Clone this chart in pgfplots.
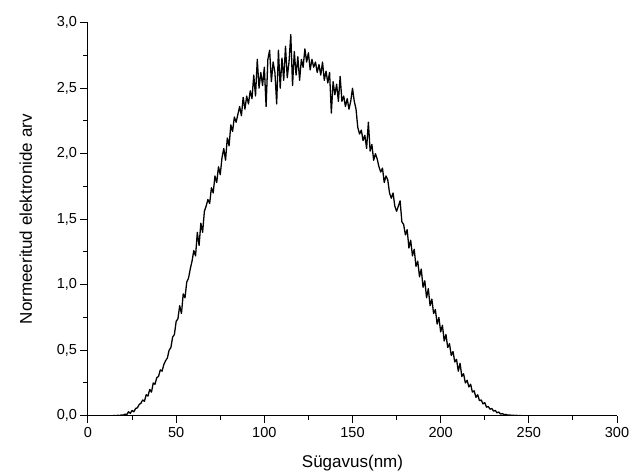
\documentclass[border=0pt]{standalone}
\usepackage{pgfplots}
\pgfplotsset{compat=1.18}
\usepackage{pgfplotstable}
\usepackage{fontspec}
\setmainfont{Liberation Sans}
\pgfplotstableread{
x y
14 0
15 0.002
16 0
17 0.003
18 0.001
19 0.006
20 0.004
21 0.012
22 0.008
23 0.03
24 0.018
25 0.04
26 0.03
27 0.055
28 0.06
29 0.085
30 0.095
31 0.12
32 0.11
33 0.16
34 0.15
35 0.2
36 0.18
37 0.25
38 0.24
39 0.29
40 0.3
41 0.35
42 0.34
43 0.39
44 0.42
45 0.44
46 0.5
47 0.52
48 0.6
49 0.62
50 0.72
51 0.74
52 0.84
53 0.78
54 0.93
55 0.9
56 1.02
57 1.05
58 1.12
59 1.18
60 1.26
61 1.22
62 1.40
63 1.30
64 1.47
65 1.40
66 1.56
67 1.6
68 1.65
69 1.62
70 1.74
71 1.7
72 1.83
73 1.78
74 1.9
75 1.84
76 1.97
77 2.04
78 1.95
79 2.12
80 2.06
81 2.22
82 2.17
83 2.28
84 2.24
85 2.3
86 2.36
87 2.29
88 2.43
89 2.34
90 2.44
91 2.38
92 2.48
93 2.42
94 2.6
95 2.44
96 2.72
97 2.5
98 2.62
99 2.52
100 2.66
101 2.36
102 2.72
103 2.79
104 2.55
105 2.7
106 2.62
107 2.38
108 2.79
109 2.5
110 2.73
111 2.56
112 2.82
113 2.58
114 2.7
115 2.91
116 2.52
117 2.78
118 2.6
119 2.74
120 2.56
121 2.72
122 2.66
123 2.8
124 2.7
125 2.77
126 2.64
127 2.72
128 2.66
129 2.7
130 2.62
131 2.68
132 2.6
133 2.7
134 2.56
135 2.63
136 2.54
137 2.62
138 2.31
139 2.55
140 2.45
141 2.53
142 2.4
143 2.59
144 2.4
145 2.44
146 2.36
147 2.42
148 2.34
149 2.4
150 2.5
151 2.4
152 2.34
153 2.2
154 2.15
155 2.18
156 2.1
157 2.14
158 2.04
159 2.24
160 2.02
161 2.07
162 1.95
163 2.0
164 1.96
165 1.9
166 1.86
167 1.89
168 1.78
169 1.83
170 1.8
171 1.7
172 1.66
173 1.7
174 1.6
175 1.56
176 1.6
177 1.64
178 1.48
179 1.46
180 1.38
181 1.42
182 1.28
183 1.34
184 1.22
185 1.27
186 1.14
187 1.18
188 1.06
189 1.12
190 0.98
191 1.03
192 0.9
193 0.97
194 0.84
195 0.89
196 0.78
197 0.81
198 0.7
199 0.75
200 0.64
201 0.69
202 0.57
203 0.62
204 0.52
205 0.55
206 0.46
207 0.49
208 0.41
209 0.43
210 0.34
211 0.4
212 0.3
213 0.32
214 0.25
215 0.27
216 0.22
217 0.24
218 0.18
219 0.19
220 0.14
221 0.16
222 0.115
223 0.12
224 0.09
225 0.1
226 0.065
227 0.07
228 0.05
229 0.055
230 0.035
231 0.04
232 0.022
233 0.028
234 0.012
235 0.016
236 0.008
237 0.01
238 0.004
239 0.006
240 0.002
241 0.004
242 0.001
243 0.003
244 0
245 0.001
246 0
}\datatable
\begin{document}
\begin{tikzpicture}
\begin{axis}[
  name=ax,
  scale only axis,
  width=529pt, height=393pt,
  xmin=0, xmax=300, ymin=0, ymax=3,
  axis x line*=bottom, axis y line*=left,
  axis line style={line width=1pt},
  xtick={0,50,...,300},
  ytick={0,0.5,...,3},
  minor x tick num=1, minor y tick num=1,
  tick align=outside,
  major tick length=7.5pt, minor tick length=4.5pt,
  every tick/.style={line width=1pt, black},
  tick label style={font=\fontsize{14.5}{15}\selectfont},
  xticklabel style={yshift=-1pt},
  /pgf/number format/assume math mode=true,
  yticklabel style={/pgf/number format/.cd, use comma, fixed, fixed zerofill, precision=1},
  xlabel={Sügavus(nm)},
  ylabel={Normeeritud elektronide arv},
  label style={font=\fontsize{17}{19}\selectfont},
  xlabel style={yshift=-10pt},
  ylabel style={yshift=18pt},
]
\addplot[black, line width=1.3pt, line join=round] table[x=x,y=y] {\datatable};
\end{axis}
\pgfresetboundingbox
\path ([xshift=-88pt,yshift=-57.3pt]ax.south west) rectangle ([xshift=12pt,yshift=22.7pt]ax.north east);
\end{tikzpicture}
\end{document}
